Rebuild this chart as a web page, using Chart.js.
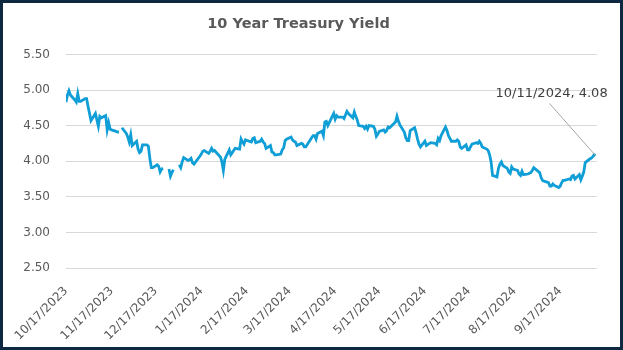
<!DOCTYPE html>
<html>
<head>
<meta charset="utf-8">
<title>10 Year Treasury Yield</title>
<script src="https://cdn.jsdelivr.net/npm/chart.js@4/dist/chart.umd.min.js"></script>
<style>
  html, body { margin: 0; padding: 0; background: #fff; }
  #wrap { width: 623px; height: 350px; }
</style>
</head>
<body>
<div id="wrap"><canvas id="yieldChart" width="623" height="350"></canvas></div>
<script>
// daily 10y yields, holidays left blank (null) where the source chart breaks the line
const dates = [
  "10/17/2023","10/18/2023","10/19/2023","10/20/2023","10/23/2023","10/24/2023","10/25/2023","10/26/2023","10/27/2023","10/30/2023","10/31/2023",
  "11/1/2023","11/2/2023","11/3/2023","11/6/2023","11/7/2023","11/8/2023","11/9/2023","11/10/2023","11/13/2023","11/14/2023","11/15/2023","11/16/2023","11/17/2023","11/20/2023","11/21/2023","11/22/2023","11/23/2023","11/24/2023","11/27/2023","11/28/2023","11/29/2023","11/30/2023",
  "12/1/2023","12/4/2023","12/5/2023","12/6/2023","12/7/2023","12/8/2023","12/11/2023","12/12/2023","12/13/2023","12/14/2023","12/15/2023","12/18/2023","12/19/2023","12/20/2023","12/21/2023","12/22/2023","12/25/2023","12/26/2023","12/27/2023","12/28/2023","12/29/2023",
  "1/1/2024","1/2/2024","1/3/2024","1/4/2024","1/5/2024","1/8/2024","1/9/2024","1/10/2024","1/11/2024","1/12/2024","1/16/2024","1/17/2024","1/18/2024","1/19/2024","1/22/2024","1/23/2024","1/24/2024","1/25/2024","1/26/2024","1/29/2024","1/30/2024","1/31/2024",
  "2/1/2024","2/2/2024","2/5/2024","2/6/2024","2/7/2024","2/8/2024","2/9/2024","2/12/2024","2/13/2024","2/14/2024","2/15/2024","2/16/2024","2/20/2024","2/21/2024","2/22/2024","2/23/2024","2/26/2024","2/27/2024","2/28/2024","2/29/2024",
  "3/1/2024","3/4/2024","3/5/2024","3/6/2024","3/7/2024","3/8/2024","3/11/2024","3/12/2024","3/13/2024","3/14/2024","3/15/2024","3/18/2024","3/19/2024","3/20/2024","3/21/2024","3/22/2024","3/25/2024","3/26/2024","3/27/2024","3/28/2024",
  "4/1/2024","4/2/2024","4/3/2024","4/4/2024","4/5/2024","4/8/2024","4/9/2024","4/10/2024","4/11/2024","4/12/2024","4/15/2024","4/16/2024","4/17/2024","4/18/2024","4/19/2024","4/22/2024","4/23/2024","4/24/2024","4/25/2024","4/26/2024","4/29/2024","4/30/2024",
  "5/1/2024","5/2/2024","5/3/2024","5/6/2024","5/7/2024","5/8/2024","5/9/2024","5/10/2024","5/13/2024","5/14/2024","5/15/2024","5/16/2024","5/17/2024","5/20/2024","5/21/2024","5/22/2024","5/23/2024","5/24/2024","5/28/2024","5/29/2024","5/30/2024","5/31/2024",
  "6/3/2024","6/4/2024","6/5/2024","6/6/2024","6/7/2024","6/10/2024","6/11/2024","6/12/2024","6/13/2024","6/14/2024","6/17/2024","6/18/2024","6/20/2024","6/21/2024","6/24/2024","6/25/2024","6/26/2024","6/27/2024","6/28/2024",
  "7/1/2024","7/2/2024","7/3/2024","7/5/2024","7/8/2024","7/9/2024","7/10/2024","7/11/2024","7/12/2024","7/15/2024","7/16/2024","7/17/2024","7/18/2024","7/19/2024","7/22/2024","7/23/2024","7/24/2024","7/25/2024","7/26/2024","7/29/2024","7/30/2024","7/31/2024",
  "8/1/2024","8/2/2024","8/5/2024","8/6/2024","8/7/2024","8/8/2024","8/9/2024","8/12/2024","8/13/2024","8/14/2024","8/15/2024","8/16/2024","8/19/2024","8/20/2024","8/21/2024","8/22/2024","8/23/2024","8/26/2024","8/27/2024","8/28/2024","8/29/2024","8/30/2024",
  "9/3/2024","9/4/2024","9/5/2024","9/6/2024","9/9/2024","9/10/2024","9/11/2024","9/12/2024","9/13/2024","9/16/2024","9/17/2024","9/18/2024","9/19/2024","9/20/2024","9/23/2024","9/24/2024","9/25/2024","9/26/2024","9/27/2024","9/30/2024",
  "10/1/2024","10/2/2024","10/3/2024","10/4/2024","10/7/2024","10/8/2024","10/9/2024","10/10/2024","10/11/2024"
];

const yields = [
  4.83,4.93,4.99,4.93,4.86,4.83,4.95,4.84,4.84,4.88,4.88,
  4.77,4.67,4.57,4.67,4.58,4.49,4.63,4.61,4.64,4.44,4.54,4.45,4.44,4.42,4.41,4.41,null,4.47,4.39,4.34,4.27,4.37,
  4.22,4.28,4.17,4.12,4.14,4.23,4.23,4.21,4.04,3.91,3.91,3.95,3.93,3.85,3.89,3.90,null,3.89,3.79,3.84,3.88,
  null,3.95,3.91,3.99,4.05,4.01,4.02,4.04,3.98,3.96,4.07,4.10,4.14,4.15,4.11,4.14,4.18,4.14,4.15,4.08,4.06,3.99,
  3.87,4.03,4.16,4.09,4.12,4.15,4.18,4.17,4.31,4.27,4.24,4.30,4.27,4.32,4.33,4.26,4.28,4.31,4.27,4.25,
  4.18,4.22,4.13,4.12,4.09,4.09,4.10,4.16,4.19,4.29,4.31,4.34,4.30,4.28,4.27,4.22,4.25,4.24,4.20,4.20,
  4.33,4.36,4.36,4.31,4.39,4.42,4.36,4.55,4.56,4.50,4.63,4.67,4.59,4.64,4.62,4.62,4.60,4.65,4.70,4.67,4.61,4.69,
  4.63,4.58,4.50,4.49,4.46,4.49,4.45,4.50,4.49,4.45,4.35,4.38,4.42,4.44,4.41,4.43,4.48,4.47,4.55,4.63,4.56,4.51,
  4.41,4.33,4.29,4.29,4.43,4.47,4.40,4.31,4.24,4.20,4.28,4.22,4.25,4.26,4.25,4.23,4.32,4.29,4.36,
  4.48,4.43,4.36,4.28,4.28,4.30,4.28,4.20,4.18,4.23,4.16,4.16,4.20,4.24,4.26,4.25,4.28,4.25,4.20,4.17,4.15,4.09,
  3.99,3.80,3.78,3.90,3.96,3.99,3.94,3.90,3.85,3.83,3.92,3.89,3.87,3.82,3.80,3.86,3.81,3.82,3.83,3.84,3.87,3.91,
  3.84,3.77,3.73,3.72,3.70,3.65,3.65,3.68,3.66,3.63,3.65,3.70,3.73,3.73,3.75,3.74,3.79,3.80,3.75,3.81,
  3.74,3.79,3.85,3.98,4.03,4.04,4.06,4.09,4.08
];

const tickLabels = [
  "10/17/2023","11/17/2023","12/17/2023","1/17/2024","2/17/2024","3/17/2024",
  "4/17/2024","5/17/2024","6/17/2024","7/17/2024","8/17/2024","9/17/2024"
];

const yTicks = [2.5, 3.0, 3.5, 4.0, 4.5, 5.0, 5.5];

// date axis: days since the first date
function dayNum(s) {
  const [m, d, y] = s.split("/").map(Number);
  const [m0, d0, y0] = dates[0].split("/").map(Number);
  return Math.round((Date.UTC(y, m - 1, d) - Date.UTC(y0, m0 - 1, d0)) / 86400000);
}

const points = dates.map((d, i) => ({x: dayNum(d), y: yields[i]}));
const tickDays = tickLabels.map(dayNum);

const FONT = "'DejaVu Sans', sans-serif";
const GREY = "#595959";

const frame = {
  id: "frame",
  afterDraw(chart) {
    const ctx = chart.ctx;
    ctx.save();
    ctx.strokeStyle = "#0e2841";
    ctx.lineWidth = 3;
    ctx.strokeRect(1.5, 1.5, chart.width - 3, chart.height - 3);
    ctx.restore();
  }
};

// data label on the last point with its leader line
const lastLabel = {
  id: "lastLabel",
  afterDatasetsDraw(chart) {
    const meta = chart.getDatasetMeta(0);
    const n = meta.data.length - 1;
    const pt = meta.data[n];
    const ctx = chart.ctx;
    ctx.save();
    ctx.strokeStyle = "#a6a6a6";
    ctx.lineWidth = 1;
    ctx.beginPath();
    ctx.moveTo(pt.x - 46, pt.y - 52);
    ctx.lineTo(pt.x, pt.y);
    ctx.stroke();
    ctx.fillStyle = "#404040";
    ctx.font = "13px " + FONT;
    ctx.textAlign = "left";
    ctx.textBaseline = "middle";
    ctx.fillText(dates[n] + ", " + yields[n].toFixed(2), pt.x - 100, pt.y - 62);
    ctx.restore();
  }
};

new Chart(document.getElementById("yieldChart"), {
  type: "line",
  data: {
    datasets: [{
      label: "10 Year Treasury Yield",
      data: points,
      borderColor: "#0f9ed5",
      borderWidth: 2.8,
      pointRadius: 0,
      tension: 0,
      spanGaps: false,
      fill: false
    }]
  },
  options: {
    responsive: false,
    animation: false,
    layout: {padding: {left: 0, right: 26, top: 0, bottom: 0}},
    plugins: {
      legend: {display: false},
      tooltip: {enabled: false},
      title: {
        display: true,
        text: "10 Year Treasury Yield",
        color: GREY,
        font: {family: FONT, size: 14.5, weight: "bold"},
        padding: {top: 16, bottom: 21}
      }
    },
    scales: {
      x: {
        type: "linear",
        min: 0,
        max: 361,
        grid: {display: false},
        border: {display: false},
        afterBuildTicks(scale) {
          scale.ticks = tickDays.map(v => ({value: v}));
        },
        afterFit(scale) { scale.height = 82; },
        ticks: {
          autoSkip: false,
          minRotation: 45,
          maxRotation: 45,
          padding: 8,
          color: GREY,
          font: {family: FONT, size: 12},
          callback: (v, i) => tickLabels[i]
        }
      },
      y: {
        min: 2.5,
        max: 5.5,
        afterBuildTicks(scale) {
          scale.ticks = yTicks.map(v => ({value: v}));
        },
        afterFit(scale) { scale.width = 66; },
        grid: {color: "#d9d9d9", drawTicks: false, lineWidth: 1},
        border: {display: false},
        ticks: {
          padding: 16,
          color: GREY,
          font: {family: FONT, size: 12},
          callback: v => v.toFixed(2)
        }
      }
    }
  },
  plugins: [frame, lastLabel]
});
</script>
</body>
</html>
